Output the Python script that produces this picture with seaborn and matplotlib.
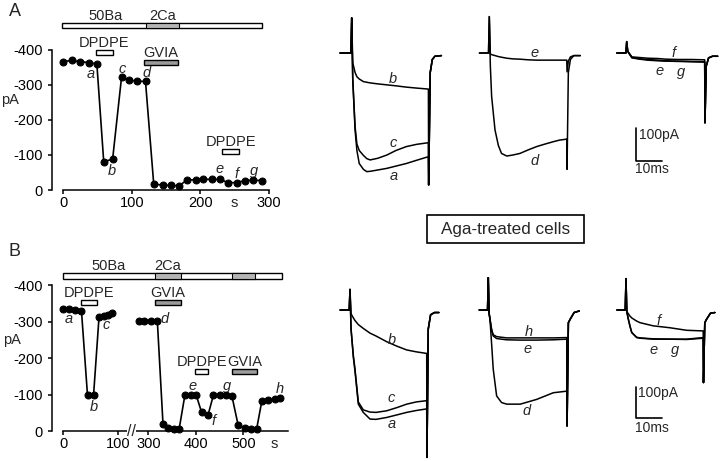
import numpy as np
import matplotlib
matplotlib.use("Agg")
import matplotlib.pyplot as plt
import seaborn as sns
from matplotlib.patches import Rectangle

# ---------------- Panel A: time course (s, pA) ----------------
A_time = [0, 12, 24, 37, 49, 59, 72, 85, 96, 108, 120, 132, 145, 157, 169,
          181, 193, 204, 217, 229, 241, 253, 265, 277, 290]
A_current = [-367, -370, -367, -364, -360, -81, -88, -322, -314, -311, -310,
             -17, -14, -13, -12, -29, -29, -31, -30, -30, -21, -21, -27, -28, -27]
A_xticks = [0, 100, 200, 300]
A_letters = ['a', 'b', 'c', 'd', 'e', 'f', 'g']
A_letter_t = [40, 71, 86, 122, 228, 253, 279]
A_letter_i = [-331, -53, -346, -334, -59, -47, -55]
# solution bar (50Ba with 2Ca segment)
A_sol_start, A_sol_end, A_sol_level = -2, 290, -469
A_ca_start = [120]
A_ca_end = [169]
A_sol_names = ['50Ba', '2Ca']
A_sol_name_t = [61, 144.5]
# drug bars
A_drug_names = ['DPDPE', 'GVIA', 'DPDPE']
A_drug_start = [48, 118, 232]
A_drug_end = [72, 167, 257]
A_drug_level = [-394, -363, -111]
A_drug_fill = ['white', '#9c9c9c', 'white']

# ---------------- Panel B: time course (s, pA) ----------------
B_time_pre = [0, 11, 22, 33, 44, 55, 65, 74, 82, 89]
B_current_pre = [-334, -333, -332, -330, -98, -98, -313, -315, -318, -322]
B_time_post = [277, 291, 305, 319, 331, 342, 354, 365, 377, 390, 401, 412, 426,
               437, 450, 463, 476, 489, 503, 517, 528, 539, 553, 566, 577]
B_current_post = [-302, -302, -302, -302, -18, -9, -6, -6, -98, -98, -98, -52, -45,
                  -98, -98, -98, -96, -17, -8, -5, -5, -82, -85, -87, -90]
B_xticks = [0, 100, 300, 400, 500]
B_letters = ['a', 'b', 'c', 'd', 'e', 'f', 'g', 'h']
B_letter_t = [9, 55, 78, 335, 394, 438, 465, 577]
B_letter_i = [-306, -67, -290, -306, -123, -27, -123, -115]
B_sol_start, B_sol_end, B_sol_level = -1, 582, -425
B_ca_start = [314, 476]
B_ca_end = [368, 525]
B_sol_names = ['50Ba', '2Ca']
B_sol_name_t = [83, 341]
B_drug_names = ['DPDPE', 'GVIA', 'DPDPE', 'GVIA']
B_drug_start = [33, 314, 399, 476]
B_drug_end = [61, 368, 426, 528]
B_drug_level = [-353, -353, -162, -162]
B_drug_fill = ['white', '#9c9c9c', 'white', '#9c9c9c']

# ---------------- Current traces (ms, pA) ----------------
A1_t = [-4.5, -0.3, 0.0, 0.4, 1.3, 2.0, 2.9, 4.5, 5.8, 7.1, 10, 13.5, 17, 21, 25,
        29.5, 29.6, 30.2, 31, 32, 34.5]
A1_a = [0, 0, 108, -80, -237, -300, -340, -358, -365, -364, -360, -355, -348, -340,
        -330, -319, -406, -60, -20, -10, -8]
A1_b = [0, 0, 108, -30, -60, -73, -80, -88, -90, -92, -95, -98, -101, -105, -108,
        -111, -406, -60, -20, -10, -8]
A1_c = [0, 0, 108, -80, -227, -280, -300, -315, -325, -329, -324, -314, -300, -288,
        -281, -276, -406, -60, -20, -10, -8]

A2_t = [-3.8, -0.3, 0, 0.4, 0.9, 2.2, 3.5, 4.7, 6.7, 9, 11.8, 15, 18.2, 21.5, 24.6,
        27, 29.8, 29.9, 30.4, 31.2, 32.5, 35]
A2_d = [0, 0, 112, -40, -134, -237, -285, -309, -317, -314, -309, -298, -288, -280,
        -273, -268, -265, -358, -60, -20, -8, -8]
A2_e = [0, 0, 112, -3, -5, -8, -11, -13, -16, -18, -19, -21, -22, -22, -22, -22, -22,
        -58, -25, -12, -8, -8]

A3_t = [-3.8, -0.3, 0, 0.4, 2, 5, 8, 12, 15, 20, 25, 30, 30.1, 30.6, 31.5, 33, 35]
A3_e = [0, 0, 35, 5, -14, -18, -20, -22, -24, -25, -26, -27, -215, -40, -15, -10, -10]
A3_f = [0, 0, 35, 5, -12, -14, -16, -17, -19, -20, -20, -21, -215, -40, -15, -10, -10]
A3_g = [0, 0, 35, 5, -15, -19, -22, -24, -25, -26, -27, -28, -215, -40, -15, -10, -10]

B1_t = [-3.8, -0.3, 0, 0.4, 1.3, 1.9, 3.2, 5.1, 7.7, 10, 14.1, 18, 21.8, 25.5, 29.5,
        29.6, 30.1, 31, 32.5, 34.2]
B1_a = [0, 0, 65, -60, -150, -191, -297, -323, -344, -345, -339, -331, -323, -317,
        -312, -465, -60, -15, -8, -8]
B1_b = [0, 0, 65, -12, -25, -33, -46, -58, -73, -82, -100, -114, -126, -132, -137,
        -465, -60, -15, -8, -8]
B1_c = [0, 0, 65, -60, -145, -185, -290, -315, -322, -323, -318, -308, -297, -290,
        -286, -465, -60, -15, -8, -8]

B2_t = [-3.5, -0.3, 0, 0.3, 0.65, 1.3, 1.9, 3.2, 5.1, 7.1, 12.3, 18.6, 25, 30.2,
        30.3, 30.8, 31.5, 33, 35]
B2_d = [0, 0, 102, -10, -29, -110, -187, -271, -292, -297, -297, -282, -261, -256,
        -366, -40, -29, -8, -3]
B2_e = [0, 0, 102, -10, -29, -65, -82, -90, -92, -94, -95, -95, -94, -92,
        -366, -40, -29, -8, -3]
B2_h = [0, 0, 102, -10, -29, -62, -78, -84, -86, -88, -88, -88, -88, -87,
        -366, -40, -29, -8, -3]

B3_t = [-3.5, -0.3, 0, 0.3, 0.9, 1.5, 2.2, 4.1, 5.4, 10.5, 16.9, 23.3, 29.7, 29.8,
        30.3, 31, 32.5, 34.2]
B3_e = [0, 0, 99, -5, -29, -50, -71, -87, -89, -92, -92, -92, -87, -229, -40, -29, -10, -8]
B3_f = [0, 0, 99, -5, -12, -19, -25, -35, -40, -50, -56, -64, -66, -229, -40, -29, -10, -8]
B3_g = [0, 0, 99, -5, -29, -50, -71, -86, -88, -91, -92, -93, -89, -229, -40, -29, -10, -8]

# trace letter labels (ms, pA)
A1_lab = [('b', 16, -81), ('c', 16, -278), ('a', 16, -378)]
A2_lab = [('e', 17.6, -1), ('d', 17.6, -332)]
A3_lab = [('f', 17.9, -1), ('e', 12.8, -54), ('g', 20.9, -58)]
B1_lab = [('b', 16, -95), ('c', 16, -279), ('a', 16, -360)]
B2_lab = [('h', 15.4, -68), ('e', 15, -122), ('d', 14.8, -319)]
B3_lab = [('f', 12.4, -35), ('e', 10.5, -127), ('g', 18.8, -127)]

# ---------------- style ----------------
sns.set_theme(style="ticks")
plt.rcParams['font.family'] = ['Liberation Sans', 'DejaVu Sans']
plt.rcParams['axes.unicode_minus'] = False

W, H = 720, 461
fig = plt.figure(figsize=(7.2, 4.61), dpi=100)


def px_axes(left, top, width, height):
    return fig.add_axes([left / W, 1 - (top + height) / H, width / W, height / H])


FS = 10.5
LW = 1.1


def style_timecourse(ax, xticks, x_end, spine_t, sec_t):
    for s in ['top', 'right']:
        ax.spines[s].set_visible(False)
    ax.spines['left'].set_position(('data', spine_t))
    ax.spines['left'].set_bounds(-400, 0)
    ax.spines['bottom'].set_position(('data', 0))
    ax.spines['bottom'].set_bounds(0, x_end)
    for s in ['left', 'bottom']:
        ax.spines[s].set_linewidth(LW)
        ax.spines[s].set_color('black')
    ax.set_yticks([-400, -300, -200, -100, 0])
    ax.set_yticklabels(['-400', '-300', '-200', '-100', '0'])
    ax.set_xticks(xticks)
    ax.set_xticklabels([str(v) for v in xticks])
    ax.set_xticks([sec_t], labels=['s'], minor=True)
    ax.tick_params(axis='both', which='major', length=3, width=LW, colors='black',
                   labelsize=FS, direction='out')
    ax.tick_params(axis='y', which='major', pad=3.5)
    ax.tick_params(axis='x', which='major', pad=1.5)
    ax.tick_params(axis='x', which='minor', length=0, pad=4.5, labelsize=FS)
    ax.set_xlabel('')
    ax.set_ylabel('')
    ax.patch.set_alpha(0)


def draw_protocol(ax, sol_start, sol_end, sol_level, ca_start, ca_end, sol_names,
                  sol_name_t, drug_names, drug_start, drug_end, drug_level, drug_fill):
    ax.barh(y=[sol_level], width=[sol_end - sol_start], left=[sol_start], height=15,
            color='white', edgecolor='black', linewidth=1.0, zorder=3)
    ax.barh(y=[sol_level] * len(ca_start),
            width=[e - s for s, e in zip(ca_start, ca_end)], left=ca_start,
            height=15, color='#b4b4b4', edgecolor='black', linewidth=0.8, zorder=4)
    for name, t in zip(sol_names, sol_name_t):
        ax.annotate(name, xy=(t, sol_level), xytext=(0, 7.2), textcoords='offset points',
                    ha='center', va='center', fontsize=FS)
    ax.barh(y=drug_level, width=[e - s for s, e in zip(drug_start, drug_end)],
            left=drug_start, height=14, color=drug_fill, edgecolor='black',
            linewidth=1.0, zorder=3)
    for name, s, e, lv in zip(drug_names, drug_start, drug_end, drug_level):
        ax.annotate(name, xy=((s + e) / 2, lv), xytext=(0, 6.9),
                    textcoords='offset points', ha='center', va='center', fontsize=FS)


def draw_points(ax, t, v):
    sns.lineplot(x=t, y=v, ax=ax, color='black', linewidth=1.2, marker='o',
                 markersize=5.0, markeredgecolor='black', estimator=None, sort=False,
                 zorder=5)


# ---------------- Panel A time course ----------------
axA = px_axes(49.6, 8, 226.05, 189.0)
draw_points(axA, A_time, A_current)
axA.set_xlim(-20, 310)
axA.set_ylim(20, -520)
style_timecourse(axA, A_xticks, 300, -16.5, 250)
draw_protocol(axA, A_sol_start, A_sol_end, A_sol_level, A_ca_start, A_ca_end,
              A_sol_names, A_sol_name_t, A_drug_names, A_drug_start, A_drug_end,
              A_drug_level, A_drug_fill)
for lab, t, v in zip(A_letters, A_letter_t, A_letter_i):
    axA.text(t, v, lab, fontsize=FS, style='italic', ha='center', va='center')

# ---------------- Panel B time course (broken axis) ----------------
B_map_t = [-1000, 120, 280, 2000]
B_map_u = [-550, 66, 75.5, 85 + 1700 * 0.475]


def fwd(t):
    return np.interp(t, B_map_t, B_map_u)


def inv(u):
    return np.interp(u, B_map_u, B_map_t)


axB = px_axes(46.8, 255.8, 244.0, 180.7)
axB.set_xscale('function', functions=(fwd, inv))
draw_points(axB, B_time_pre, B_current_pre)
draw_points(axB, B_time_post, B_current_post)
axB.set_xlim(-30, 600)
axB.set_ylim(15, -480)
style_timecourse(axB, B_xticks, 594, -21, 566)
draw_protocol(axB, B_sol_start, B_sol_end, B_sol_level, B_ca_start, B_ca_end,
              B_sol_names, B_sol_name_t, B_drug_names, B_drug_start, B_drug_end,
              B_drug_level, B_drug_fill)
for lab, t, v in zip(B_letters, B_letter_t, B_letter_i):
    axB.text(t, v, lab, fontsize=FS, style='italic', ha='center', va='center')
axB.text(155, 0, '//', fontsize=11.5, ha='center', va='center', zorder=6,
         bbox=dict(facecolor='white', edgecolor='none', pad=0.2))

# ---------------- Traces ----------------
XPX = 2.6  # px per ms


def trace_axes(t0_px, y0_px, ypx):
    xl = (-6, 37)
    yl = (-480, 130)
    ax = px_axes(t0_px + xl[0] * XPX, y0_px - yl[1] * ypx, (xl[1] - xl[0]) * XPX,
                 (yl[1] - yl[0]) * ypx)
    ax.set_xlim(xl)
    ax.set_ylim(yl)
    ax.axis('off')
    return ax


def draw_traces(ax, t, traces, labels):
    for tr in traces:
        sns.lineplot(x=t, y=tr, ax=ax, color='black', linewidth=1.1,
                     estimator=None, sort=False)
    for lab, x, y in labels:
        ax.text(x, y, lab, fontsize=FS, style='italic', ha='center', va='center')


a1 = trace_axes(351.7, 53, 0.325)
draw_traces(a1, A1_t, [A1_a, A1_b, A1_c], A1_lab)
a2 = trace_axes(489.3, 53, 0.325)
draw_traces(a2, A2_t, [A2_d, A2_e], A2_lab)
a3 = trace_axes(626.7, 53, 0.325)
draw_traces(a3, A3_t, [A3_e, A3_f, A3_g], A3_lab)
a3.plot([3.6, 3.6, 13.6], [-231, -331, -331], color='black', lw=1.2)
a3.text(4.8, -252, '100pA', fontsize=10, ha='left', va='center')
a3.text(3.2, -357, '10ms', fontsize=10, ha='left', va='center')

b1 = trace_axes(350, 310, 0.317)
draw_traces(b1, B1_t, [B1_a, B1_b, B1_c], B1_lab)
b2 = trace_axes(488.3, 310, 0.317)
draw_traces(b2, B2_t, [B2_d, B2_e, B2_h], B2_lab)
b3 = trace_axes(626, 310, 0.317)
draw_traces(b3, B3_t, [B3_e, B3_f, B3_g], B3_lab)
b3.plot([3.85, 3.85, 13.85], [-242, -342, -342], color='black', lw=1.2)
b3.text(4.7, -263, '100pA', fontsize=10, ha='left', va='center')
b3.text(3.5, -371, '10ms', fontsize=10, ha='left', va='center')

# ---------------- figure-level text ----------------
fig.text(15 / W, 1 - 12 / H, 'A', fontsize=13, ha='center', va='center')
fig.text(15 / W, 1 - 252 / H, 'B', fontsize=13, ha='center', va='center')
fig.text(10 / W, 1 - 100 / H, 'pA', fontsize=FS, ha='center', va='center')
fig.text(12 / W, 1 - 340 / H, 'pA', fontsize=FS, ha='center', va='center')

fig.patches.append(Rectangle((426.7 / W, 1 - 243 / H), (584 - 426.7) / W, 28 / H,
                             transform=fig.transFigure, facecolor='white',
                             edgecolor='black', linewidth=1.2))
fig.text(505.5 / W, 1 - 229 / H, 'Aga-treated cells', fontsize=12.3, ha='center',
         va='center')

fig.savefig('out.png', dpi=100)
